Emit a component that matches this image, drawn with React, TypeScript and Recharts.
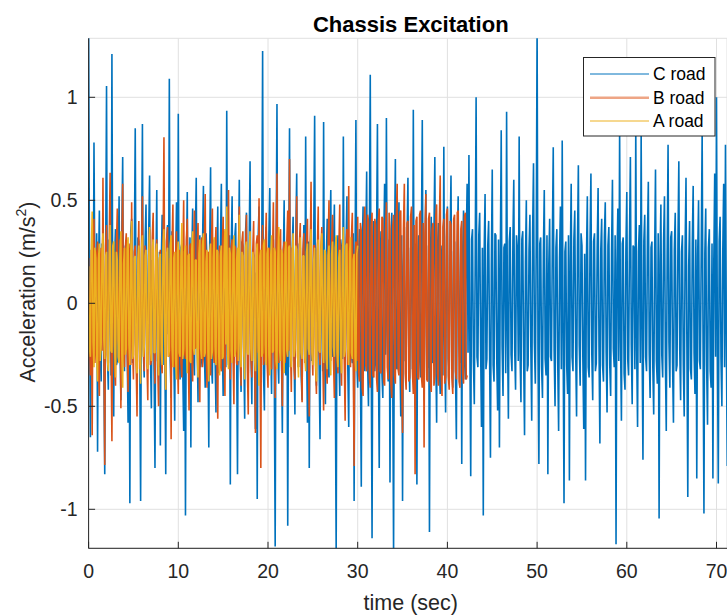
import React from 'react';
import { LineChart, Line, XAxis, YAxis, CartesianGrid } from 'recharts';

// sample step of the three road records (sec)
const DT = 0.1;

const cRoad = [
  1.35, 0.12, -0.65, -0.18, 0.32, -0.27, 0.78, 0.09, -0.21, 0.34, -0.72, 0.15, 0.45, -0.24, -0.38, 0.29, 0.26, -0.31, -0.83, 0.22,
  1.055, -0.26, -0.42, 0.31, 0.18, -0.35, 1.21, -0.14, -0.55, 0.23, 0.36, -0.30, -0.28, 0.19, 0.52, -0.22, -0.47, 0.33, 0.71, -0.16,
  -0.33, 0.28, 0.24, -0.21, -0.58, 0.17, -0.97, 0.35, 0.41, -0.29, -0.19, 0.26, 0.85, -0.12, -0.44, 0.32, 0.30, -0.25, -0.96, 0.20,
  0.87, -0.23, -0.36, 0.30, 0.48, -0.18, -0.25, 0.34, 0.62, -0.27, -0.51, 0.21, 0.17, -0.33, -0.80, 0.14, 0.55, -0.28, -0.31, 0.25,
  -0.69, 0.19, 0.43, -0.30, 0.27, -0.22, -0.83, 0.31, 0.38, -0.15, 1.09, -0.28, -0.46, 0.35, 0.22, -0.26, -0.57, 0.18, 0.49, -0.32,
  0.92, -0.20, -0.37, 0.27, 0.29, -0.33, -0.62, 0.24, -1.03, 0.16, 0.54, -0.29, -0.24, 0.32, -0.70, 0.21, 0.46, -0.26, -0.35, 0.30,
  0.61, -0.17, -0.48, 0.25, 0.33, -0.31, -0.27, 0.28, 0.57, -0.23, -0.41, 0.34, 0.20, -0.19, -0.70, 0.27, 0.66, -0.30, -0.39, 0.22,
  0.31, -0.26, -0.53, 0.20, 0.47, -0.34, -0.22, 0.29, 0.58, -0.18, -0.45, 0.24, 0.35, -0.31, 0.935, -0.12, -0.30, 0.33, -0.88, 0.26,
  0.52, -0.29, -0.26, 0.32, 0.39, -0.21, -0.83, 0.18, 0.60, -0.27, -0.43, 0.30, 0.28, -0.24, -0.56, 0.35, 0.44, -0.19, -0.34, 0.28,
  0.69, -0.22, -0.49, 0.26, 0.23, -0.30, -0.61, 0.15, -0.95, 0.31, 0.47, -0.25, -0.32, 0.20, 1.225, -0.34, -0.52, 0.27, 0.37, -0.21,
  -0.27, 0.33, 0.56, -0.19, -0.44, 0.28, 0.31, -0.32, -1.18, 0.22, 0.967, -0.26, -0.39, 0.30, 0.25, -0.23, -0.63, 0.17, 0.50, -0.29,
  -0.35, 0.24, -1.08, 0.13, 0.85, -0.31, -0.28, 0.27, 0.42, -0.22, -0.54, 0.33, 0.63, -0.18, -0.31, 0.29, 0.27, -0.35, -0.47, 0.21,
  0.38, -0.25, 0.81, -0.20, -0.58, 0.30, -0.80, 0.23, 0.45, -0.28, -0.23, 0.34, 0.91, -0.16, -0.40, 0.26, 0.34, -0.31, -0.66, 0.19,
  0.29, -0.33, 0.88, -0.24, -0.49, 0.21, 0.41, -0.29, -0.36, 0.32, 0.55, -0.20, -0.26, 0.27, 0.48, -0.30, -1.22, 0.18, 0.33, -0.23,
  -0.45, 0.31, 0.26, -0.27, 0.81, -0.15, -0.37, 0.28, 0.52, -0.32, -0.60, 0.22, 0.30, -0.25, -0.29, 0.34, -0.96, 0.19, 0.89, -0.28,
  -0.41, 0.23, 0.36, -0.30, -0.89, 0.26, 0.47, -0.21, -0.33, 0.29, 0.64, -0.27, -0.50, 0.32, 1.11, -0.18, -1.14, 0.24, 0.40, -0.33,
  -0.27, 0.30, 0.87, -0.22, -0.80, 0.19, 0.35, -0.34, -0.46, 0.27, 0.58, -0.25, 0.90, -0.14, -0.38, 0.31, -0.87, 0.21, 0.44, -0.29,
  -1.22, 0.26, 0.70, -0.31, -0.32, 0.24, 0.49, -0.20, -0.55, 0.33, -0.96, 0.18, 0.37, -0.28, -0.28, 0.30, 0.61, -0.24, -0.43, 0.27,
  0.26, -0.32, 0.94, -0.17, -0.51, 0.29, -0.88, 0.22, 0.33, -0.26, -0.36, 0.31, 0.89, -0.20, -0.47, 0.25, 0.55, -0.33, -0.30, 0.28,
  -1.11, 0.21, 0.42, -0.29, -0.25, 0.34, 0.71, -0.23, -0.58, 0.27, 0.39, -0.30, -0.44, 0.19, 0.28, -0.35, 0.76, -0.18, -0.53, 0.32,
  0.47, -0.27, -0.34, 0.30, 0.62, -0.21, -0.41, 0.25, 0.30, -0.33, -0.66, 0.28, 0.52, -0.19, -0.29, 0.32, -0.78, 0.24, 0.45, -0.26,
  -0.37, 0.29, 0.58, -0.24, 0.72, -0.18, -0.84, 0.31, 0.36, -0.28, -0.49, 0.22, 1.0, -0.26, -0.31, 0.33, 0.44, -0.20, -0.60, 0.27,
  -1.03, 0.25, 0.53, -0.32, -0.27, 0.28, 0.40, -0.23, -0.75, 0.19, 0.65, -0.30, -0.38, 0.34, 0.33, -0.27, -0.52, 0.31, -0.70, 0.22,
  0.84, -0.21, -0.45, 0.27, 0.29, -0.34, 0.93, -0.16, -0.56, 0.30, 0.37, -0.25, -0.33, 0.29, 0.60, -0.22, -0.42, 0.33, 0.26, -0.28,
  0.81, -0.24, -0.48, 0.31, 0.35, -0.27, -0.64, 0.20, 0.50, -0.33, -0.30, 0.26, 0.43, -0.21, -0.57, 0.34, 0.68, -0.19, -0.39, 0.28,
  1.35, -0.22, -0.78, 0.29, 0.32, -0.31, -0.46, 0.24, 0.55, -0.27, -0.35, 0.33, -0.83, 0.18, 0.41, -0.26, -0.28, 0.30, 0.757, -0.23,
  -0.50, 0.27, 0.36, -0.29, -0.62, 0.22, 0.47, -0.32, 0.79, -0.17, -0.97, 0.25, 0.30, -0.30, -0.44, 0.33, -0.86, 0.20, 0.58, -0.26,
  -0.33, 0.31, 0.45, -0.23, -0.55, 0.28, 0.67, -0.20, -0.40, 0.34, 0.28, -0.27, -0.61, 0.24, -0.86, 0.21, 0.52, -0.31, -0.36, 0.29,
  0.63, -0.25, -0.47, 0.30, 0.34, -0.33, -0.29, 0.27, 0.56, -0.21, -0.68, 0.26, 0.41, -0.30, -0.38, 0.32, 0.49, -0.24, -0.53, 0.28,
  0.37, -0.30, -0.45, 0.25, 0.60, -0.22, -0.31, 0.33, -1.17, 0.19, 0.46, -0.28, 0.84, -0.18, -0.57, 0.29, 0.32, -0.34, -0.42, 0.26,
  0.54, -0.27, -0.35, 0.31, 0.71, -0.20, -0.49, 0.28, 0.27, -0.32, 0.86, -0.23, -0.60, 0.25, 0.38, -0.29, 0.84, -0.17, -0.76, 0.30,
  0.43, -0.26, -0.33, 0.32, 0.59, -0.24, -0.46, 0.27, 0.30, -0.31, -0.54, 0.22, 0.65, -0.28, -0.39, 0.34, -1.045, 0.20, 0.48, -0.25,
  -0.36, 0.30, 0.52, -0.27, -0.62, 0.23, 0.77, -0.19, -0.41, 0.32, 0.35, -0.29, -0.58, 0.26, 0.44, -0.33, -0.30, 0.28, 0.69, -0.22,
  -0.47, 0.25, 0.33, -0.30, -0.55, 0.27, 0.61, -0.21, -0.94, 0.18, 0.40, -0.32, -0.37, 0.29, 0.57, -0.24, -0.44, 0.31, -0.85, 0.23,
  0.50, -0.28, -0.32, 0.26, 0.84, -0.19, -1.02, 0.24, 0.46, -0.30, -0.59, 0.27, 0.36, -0.33, -0.41, 0.29, -0.85, 0.21, 0.63, -0.26,
  1.0, -0.23, -0.875, 0.30, 0.42, -0.27, -0.50, 0.25, 0.58, -0.31, 0.77, -0.20, -0.79,
];

const bRoad = [
  0.22, -0.18, -0.35, 0.26, -0.64, 0.21, 0.41, -0.29, -0.18, 0.24, 0.30, -0.31, -0.45, 0.19, 0.27, -0.23, 0.61, -0.16, -0.785, 0.28,
  0.38, -0.25, -0.29, 0.30, 0.634, -0.20, -0.67, 0.22, 0.25, -0.33, -0.40, 0.27, 0.46, -0.18, -0.22, 0.31, -0.51, 0.24, 0.58, -0.26,
  -0.31, 0.27, 0.34, -0.22, -0.43, 0.29, 0.19, -0.30, 0.49, -0.21, -0.37, 0.25, 0.28, -0.28, -0.55, 0.20, 0.40, -0.32, -0.24, 0.26,
  0.52, -0.19, -0.33, 0.28, 0.21, -0.27, -0.47, 0.23, 0.36, -0.30, -0.28, 0.32, 0.44, -0.22, -0.39, 0.25, 0.31, -0.29, -0.50, 0.21,
  0.26, -0.28, -0.34, 0.24, 0.806, -0.17, -0.42, 0.30, 0.37, -0.26, -0.25, 0.22, -0.66, 0.27, 0.48, -0.31, -0.30, 0.23, 0.35, -0.25,
  -0.44, 0.26, 0.23, -0.29, -0.36, 0.21, 0.50, -0.24, -0.27, 0.31, 0.41, -0.20, -0.52, 0.28, 0.29, -0.27, -0.38, 0.25, 0.45, -0.22,
  -0.21, 0.29, 0.39, -0.26, -0.48, 0.22, 0.32, -0.31, -0.26, 0.27, 0.53, -0.19, -0.41, 0.25, 0.24, -0.28, -0.35, 0.30, 0.46, -0.23,
  -0.29, 0.24, 0.37, -0.27, -0.56, 0.20, 0.28, -0.30, -0.33, 0.26, 0.42, -0.22, -0.45, 0.29, 0.20, -0.25, 0.55, -0.18, -0.37, 0.27,
  0.31, -0.24, -0.49, 0.28, 0.26, -0.29, -0.30, 0.23, 0.47, -0.21, -0.40, 0.30, 0.35, -0.26, -0.23, 0.27, 0.43, -0.31, -0.54, 0.22,
  0.29, -0.27, -0.36, 0.25, 0.40, -0.22, -0.63, 0.29, 0.33, -0.24, 0.51, -0.19, -0.80, 0.26, 0.38, -0.30, -0.27, 0.23, 0.44, -0.28,
  -0.41, 0.27, 0.25, -0.30, -0.32, 0.22, 0.49, -0.25, -0.46, 0.28, 0.63, -0.21, -0.29, 0.31, 0.36, -0.24, -0.50, 0.26, 0.30, -0.29,
  -0.24, 0.30, 0.45, -0.23, 0.70, -0.18, -0.43, 0.27, 0.27, -0.31, -0.37, 0.24, 0.52, -0.26, -0.31, 0.29, 0.39, -0.22, -0.48, 0.25,
  0.34, -0.29, -0.26, 0.31, 0.41, -0.24, -0.55, 0.22, 0.59, -0.20, -0.35, 0.28, 0.28, -0.30, -0.44, 0.26, 0.47, -0.23, -0.30, 0.27,
  0.37, -0.25, -0.52, 0.23, 0.24, -0.31, -0.39, 0.28, 0.50, -0.22, -0.28, 0.30, 0.43, -0.27, -0.46, 0.24, 0.32, -0.29, -0.34, 0.26,
  0.48, -0.23, -0.40, 0.29, 0.26, -0.27, -0.57, 0.25, 0.36, -0.30, 0.57, -0.21, -0.31, 0.32, 0.44, -0.26, -0.79, 0.22, 0.30, -0.28,
  0.42, -0.34, -0.38, 0.39, 0.35, -0.41, -0.45, 0.37, 0.47, -0.30, -0.33, 0.43, 0.40, -0.36, -0.41, 0.38, 0.44, -0.35, -0.36, 0.41,
  0.38, -0.36, -0.43, 0.40, 0.46, -0.33, -0.34, 0.42, 0.41, -0.38, -0.40, 0.35, 0.49, -0.31, -0.37, 0.44, 0.36, -0.39, -0.46, 0.37,
  0.43, -0.35, -0.39, 0.41, 0.58, -0.32, -0.35, 0.44, 0.45, -0.37, -0.63, 0.36, 0.58, -0.34, -0.42, 0.39, 0.40, -0.38, -0.36, 0.42,
  0.47, -0.33, -0.44, 0.38, -0.83, 0.40, 0.42, -0.36, -0.37, 0.43, 0.45, -0.35, -0.41, 0.39, -0.70, 0.34, 0.53, -0.37, -0.38, 0.41,
  0.44, -0.38, -0.43, 0.36, 0.39, -0.40, -0.35, 0.42, 0.48, -0.34, -0.40, 0.39, 0.62, -0.33, -0.45, 0.37, 0.41, -0.39, -0.36, 0.43,
  0.46, -0.35, -0.42, 0.40, 0.38, -0.36, -0.44, 0.41, 0.43, -0.33, -0.37, 0.44, 0.45, -0.38, -0.41, 0.36, 0.40, -0.34, -0.39, 0.42,
  0.44, -0.37, -0.35,
];

const aRoad = [
  0.18, -0.22, -0.26, 0.24, 0.445, -0.19, -0.31, 0.27, 0.22, -0.25, -0.38, 0.21, 0.29, -0.28, -0.20, 0.26, 0.34, -0.18, -0.27, 0.23,
  0.25, -0.27, -0.33, 0.20, 0.38, -0.23, -0.24, 0.28, 0.30, -0.21, -0.36, 0.25, 0.21, -0.26, -0.29, 0.22, 0.35, -0.24, -0.41, 0.19,
  0.27, -0.25, -0.22, 0.26, 0.32, -0.20, -0.30, 0.24, 0.40, -0.27, -0.25, 0.22, 0.23, -0.29, -0.34, 0.21, 0.28, -0.23, -0.39, 0.26,
  0.33, -0.26, -0.21, 0.23, 0.26, -0.28, -0.32, 0.20, 0.37, -0.22, -0.28, 0.27, 0.31, -0.24, -0.24, 0.25, 0.29, -0.21, -0.35, 0.22,
  0.24, -0.23, -0.30, 0.27, 0.36, -0.19, -0.42, 0.24, 0.27, -0.26, -0.23, 0.28, 0.33, -0.21, -0.31, 0.22, 0.25, -0.27, -0.37, 0.24,
  0.30, -0.24, -0.26, 0.22, 0.39, -0.27, -0.22, 0.25, 0.28, -0.20, -0.34, 0.23, 0.24, -0.28, -0.29, 0.26, 0.35, -0.22, -0.25, 0.21,
  0.21, -0.25, -0.36, 0.24, 0.31, -0.22, -0.27, 0.28, 0.34, -0.26, -0.24, 0.20, 0.26, -0.23, -0.38, 0.25, 0.29, -0.27, -0.23, 0.22,
  0.32, -0.21, -0.30, 0.26, 0.25, -0.24, -0.35, 0.23, 0.28, -0.27, -0.26, 0.22, 0.36, -0.20, 0.47, -0.25, -0.32, 0.27, 0.24, -0.23,
  -0.29, 0.24, 0.33, -0.26, -0.22, 0.21, 0.27, -0.28, 0.43, -0.19, -0.31, 0.25, 0.23, -0.22, -0.37, 0.27, 0.30, -0.24, -0.25, 0.26,
  0.35, -0.22, -0.28, 0.25, 0.22, -0.27, -0.33, 0.24, 0.29, -0.21, -0.40, 0.23, 0.26, -0.26, -0.24, 0.28, 0.31, -0.20, -0.30, 0.24,
  0.27, -0.25, -0.35, 0.22, 0.33, -0.24, -0.23, 0.27, 0.25, -0.28, -0.32, 0.21, 0.37, -0.23, -0.28, 0.26, 0.24, -0.22, -0.34, 0.25,
  0.30, -0.23, -0.26, 0.27, 0.28, -0.21, -0.31, 0.24, 0.34, -0.26, -0.22, 0.28, 0.26, -0.25, -0.36, 0.22, 0.32, -0.24, -0.27, 0.23,
  0.23, -0.26, -0.33, 0.25, 0.29, -0.22, -0.25, 0.27, 0.36, -0.24, -0.30, 0.21, 0.27, -0.28, -0.38, 0.24, 0.31, -0.23, -0.24, 0.26,
  0.34, -0.22, -0.29, 0.26, 0.25, -0.27, -0.32, 0.23, 0.28, -0.25, -0.35, 0.24, 0.30, -0.21, -0.26, 0.27, 0.33, -0.24, -0.31, 0.22,
  0.26, -0.25, -0.34, 0.23, 0.37, -0.26, -0.23, 0.28, 0.29, -0.22, -0.30, 0.25, 0.32, -0.24, -0.27, 0.21, 0.24, -0.26, -0.33, 0.24,
  0.28,
];

const xTicks = [0, 10, 20, 30, 40, 50, 60, 70];
const yTicks = [-1, -0.5, 0, 0.5, 1];
const xDomain = [0, 71.17];
const yDomain = [-1.1893, 1.2864];

const seriesKeys = ['c', 'b', 'a'];
const seriesNames = ['C road', 'B road', 'A road'];
const seriesColors = ['#0072BD', '#D95319', '#EDB120'];

const table = cRoad.map((c, i) => ({
  t: Math.round(i * DT * 100) / 100,
  c,
  b: bRoad[i],
  a: aRoad[i],
}));

const INK = '#262626';
const FONT = '"Liberation Sans", Arial, Helvetica, sans-serif';
const TICK_LEN = 6.5;

// matlab style ticks point into the axes box
const BottomTick = (props: any) => {
  const { x, y, payload } = props;
  return (
    <g>
      <line x1={x} y1={y} x2={x} y2={y - TICK_LEN} stroke={INK} strokeWidth={1} />
      <text x={x} y={y + 30} textAnchor="middle" fill={INK} fontSize={19.5} fontFamily={FONT}>
        {payload.value}
      </text>
    </g>
  );
};

const TopTick = (props: any) => (
  <line x1={props.x} y1={props.y} x2={props.x} y2={props.y + TICK_LEN} stroke={INK} strokeWidth={1} />
);

const LeftTick = (props: any) => {
  const { x, y, payload } = props;
  return (
    <g>
      <line x1={x} y1={y} x2={x + TICK_LEN} y2={y} stroke={INK} strokeWidth={1} />
      <text x={x - 11} y={y + 7} textAnchor="end" fill={INK} fontSize={19.5} fontFamily={FONT}>
        {payload.value}
      </text>
    </g>
  );
};

const legendRows = [74, 97.7, 121];

export default function App() {
  return (
    <div style={{ position: 'absolute', left: 0, top: 0, width: 727, height: 616, overflow: 'hidden', background: '#fff' }}>
      <LineChart width={727} height={616} data={table} margin={{ top: 38.3, right: 0, bottom: 0, left: 0 }}>
        <CartesianGrid stroke="#e0e0e0" strokeWidth={1} />
        <XAxis
          dataKey="t"
          type="number"
          domain={xDomain}
          ticks={xTicks}
          interval={0}
          allowDataOverflow
          height={67.7}
          tickSize={0}
          tickMargin={0}
          tickLine={false}
          axisLine={{ stroke: INK, strokeWidth: 1 }}
          tick={<BottomTick />}
        />
        <XAxis
          xAxisId="top"
          orientation="top"
          dataKey="t"
          type="number"
          domain={xDomain}
          ticks={xTicks}
          interval={0}
          allowDataOverflow
          height={0}
          tickSize={0}
          tickMargin={0}
          tickLine={false}
          axisLine={{ stroke: INK, strokeWidth: 1 }}
          tick={<TopTick />}
        />
        <YAxis
          type="number"
          domain={yDomain}
          ticks={yTicks}
          interval={0}
          allowDataOverflow
          width={88.6}
          tickSize={0}
          tickMargin={0}
          tickLine={false}
          axisLine={{ stroke: INK, strokeWidth: 1 }}
          tick={<LeftTick />}
        />
        {seriesKeys.map((k, i) => (
          <Line
            key={k}
            type="linear"
            dataKey={k}
            stroke={seriesColors[i]}
            strokeWidth={1.6}
            strokeLinejoin="bevel"
            dot={false}
            activeDot={false}
            isAnimationActive={false}
          />
        ))}
      </LineChart>

      <svg width={727} height={616} style={{ position: 'absolute', left: 0, top: 0, pointerEvents: 'none' }} fontFamily={FONT}>
        <text x={410.8} y={31.5} textAnchor="middle" fontSize={22} fontWeight="bold" fill="#000">
          Chassis Excitation
        </text>
        <text x={410.8} y={610} textAnchor="middle" fontSize={21.5} fill={INK}>
          time (sec)
        </text>
        <text x={35} y={292} textAnchor="middle" fontSize={21.5} fill={INK} transform="rotate(-90, 35, 292)">
          Acceleration (m/s<tspan fontSize={14} dy={-9}>2</tspan><tspan dy={9}>)</tspan>
        </text>

        <rect x={583.5} y={57.5} width={131.5} height={78.5} fill="#fff" stroke={INK} strokeWidth={1} />
        {seriesNames.map((name, i) => (
          <g key={name}>
            <line
              x1={590}
              x2={649}
              y1={legendRows[i]}
              y2={legendRows[i]}
              stroke={i === 1 ? '#EEA585' : seriesColors[i]}
              strokeWidth={i === 1 ? 2.5 : 1}
            />
            <text x={653} y={legendRows[i] + 6.3} fontSize={17.5} fill="#000">
              {name}
            </text>
          </g>
        ))}
      </svg>
    </div>
  );
}
